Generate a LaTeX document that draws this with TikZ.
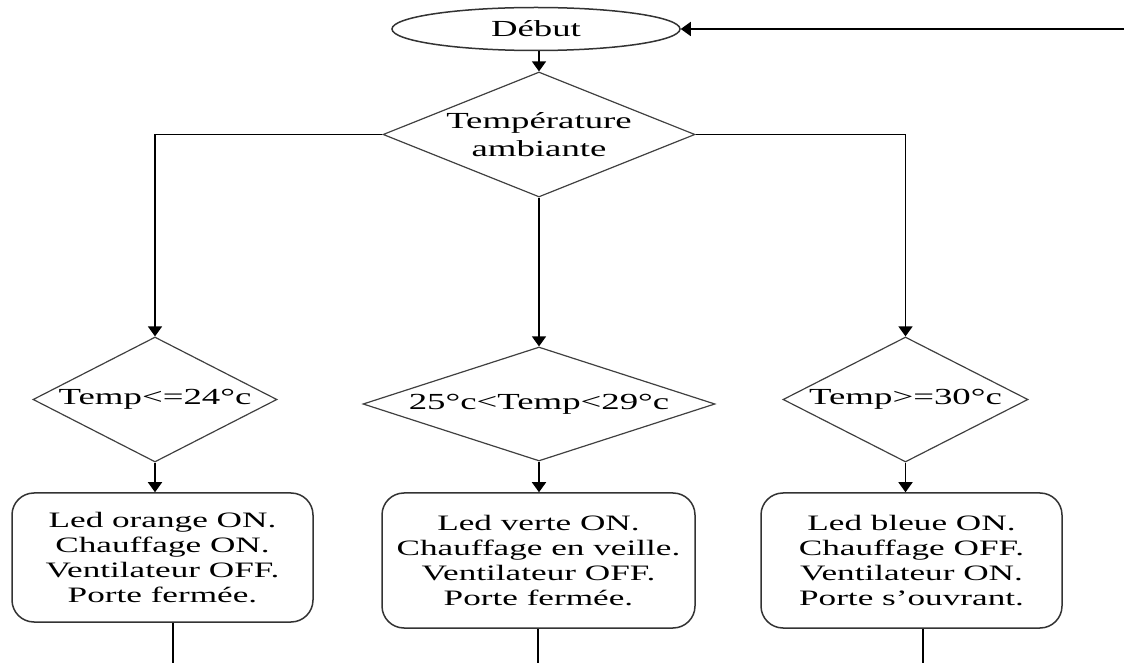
\documentclass[tikz,border=0pt]{standalone}
\usepackage{fontspec}
\setmainfont{Liberation Serif}[FakeStretch=1.6]
\usetikzlibrary{shapes.geometric,arrows.meta}

\tikzset{
  flow/.style={line width=0.75pt, -{Triangle[width=7pt,length=5pt]}},
  wire/.style={line width=0.75pt},
  test/.style={diamond, draw=black!75, line width=0.6pt, inner sep=0pt,
    align=center, font=\fontsize{11.5}{14}\selectfont},
  action/.style={rectangle, rounded corners=11pt, draw=black!80, line width=0.75pt,
    inner sep=0pt, align=center, font=\fontsize{11}{12.5}\selectfont},
}

\begin{document}
\begin{tikzpicture}[x=0.5pt, y=-0.5pt]
  \useasboundingbox (0,0) rectangle (1131,663);

  % start and first test
  \node[ellipse, draw=black!80, line width=0.75pt, minimum width=144pt, minimum height=21.5pt,
    inner sep=0pt, font=\fontsize{11.5}{14}\selectfont] (debut) at (536,29) {Début};
  \node[test, aspect=2.5, minimum width=156pt, minimum height=62.5pt] (temp) at (539,134.5) {Température\\ambiante};

  % the three ranges
  \node[test, aspect=1.95, minimum width=122pt, minimum height=62.5pt] (cas1) at (155,399.5) {Temp<=24°c};
  \node[test, aspect=3.09, minimum width=176pt, minimum height=57pt] (cas2) at (539,404) {25°c<Temp<29°c};
  \node[test, aspect=1.95, minimum width=122.5pt, minimum height=62.5pt] (cas3) at (905.5,399.5) {Temp>=30°c};

  % what happens in each case
  \node[action, minimum width=150.5pt, minimum height=64.5pt] (act1) at (162.5,557.5)
    {Led orange ON.\\Chauffage ON.\\Ventilateur OFF.\\Porte fermée.};
  \node[action, minimum width=156.5pt, minimum height=67.5pt] (act2) at (538.5,560.5)
    {Led verte ON.\\Chauffage en veille.\\Ventilateur OFF.\\Porte fermée.};
  \node[action, minimum width=150.5pt, minimum height=67.5pt] (act3) at (911.5,560.5)
    {Led bleue ON.\\Chauffage OFF.\\Ventilateur ON.\\Porte s'ouvrant.};

  % arrows
  \draw[flow] (debut.south -| temp.north) -- (temp.north);
  \draw[flow] (temp.west) -| (cas1.north);
  \draw[flow] (temp.south) -- (cas2.north);
  \draw[flow] (temp.east) -| (cas3.north);
  \draw[flow] (cas1.south) -- (cas1.south |- act1.north);
  \draw[flow] (cas2.south) -- (cas2.south |- act2.north);
  \draw[flow] (cas3.south) -- (cas3.south |- act3.north);

  % loop back to the start
  \coordinate (retour) at (1124,29);
  \draw[flow] (retour) -- (debut.east);

  % lines going on below
  \coordinate (suite1) at (173,663);
  \coordinate (suite2) at (538,663);
  \coordinate (suite3) at (923,663);
  \draw[wire] (suite1 |- act1.south) -- (suite1);
  \draw[wire] (suite2 |- act2.south) -- (suite2);
  \draw[wire] (suite3 |- act3.south) -- (suite3);
\end{tikzpicture}
\end{document}
